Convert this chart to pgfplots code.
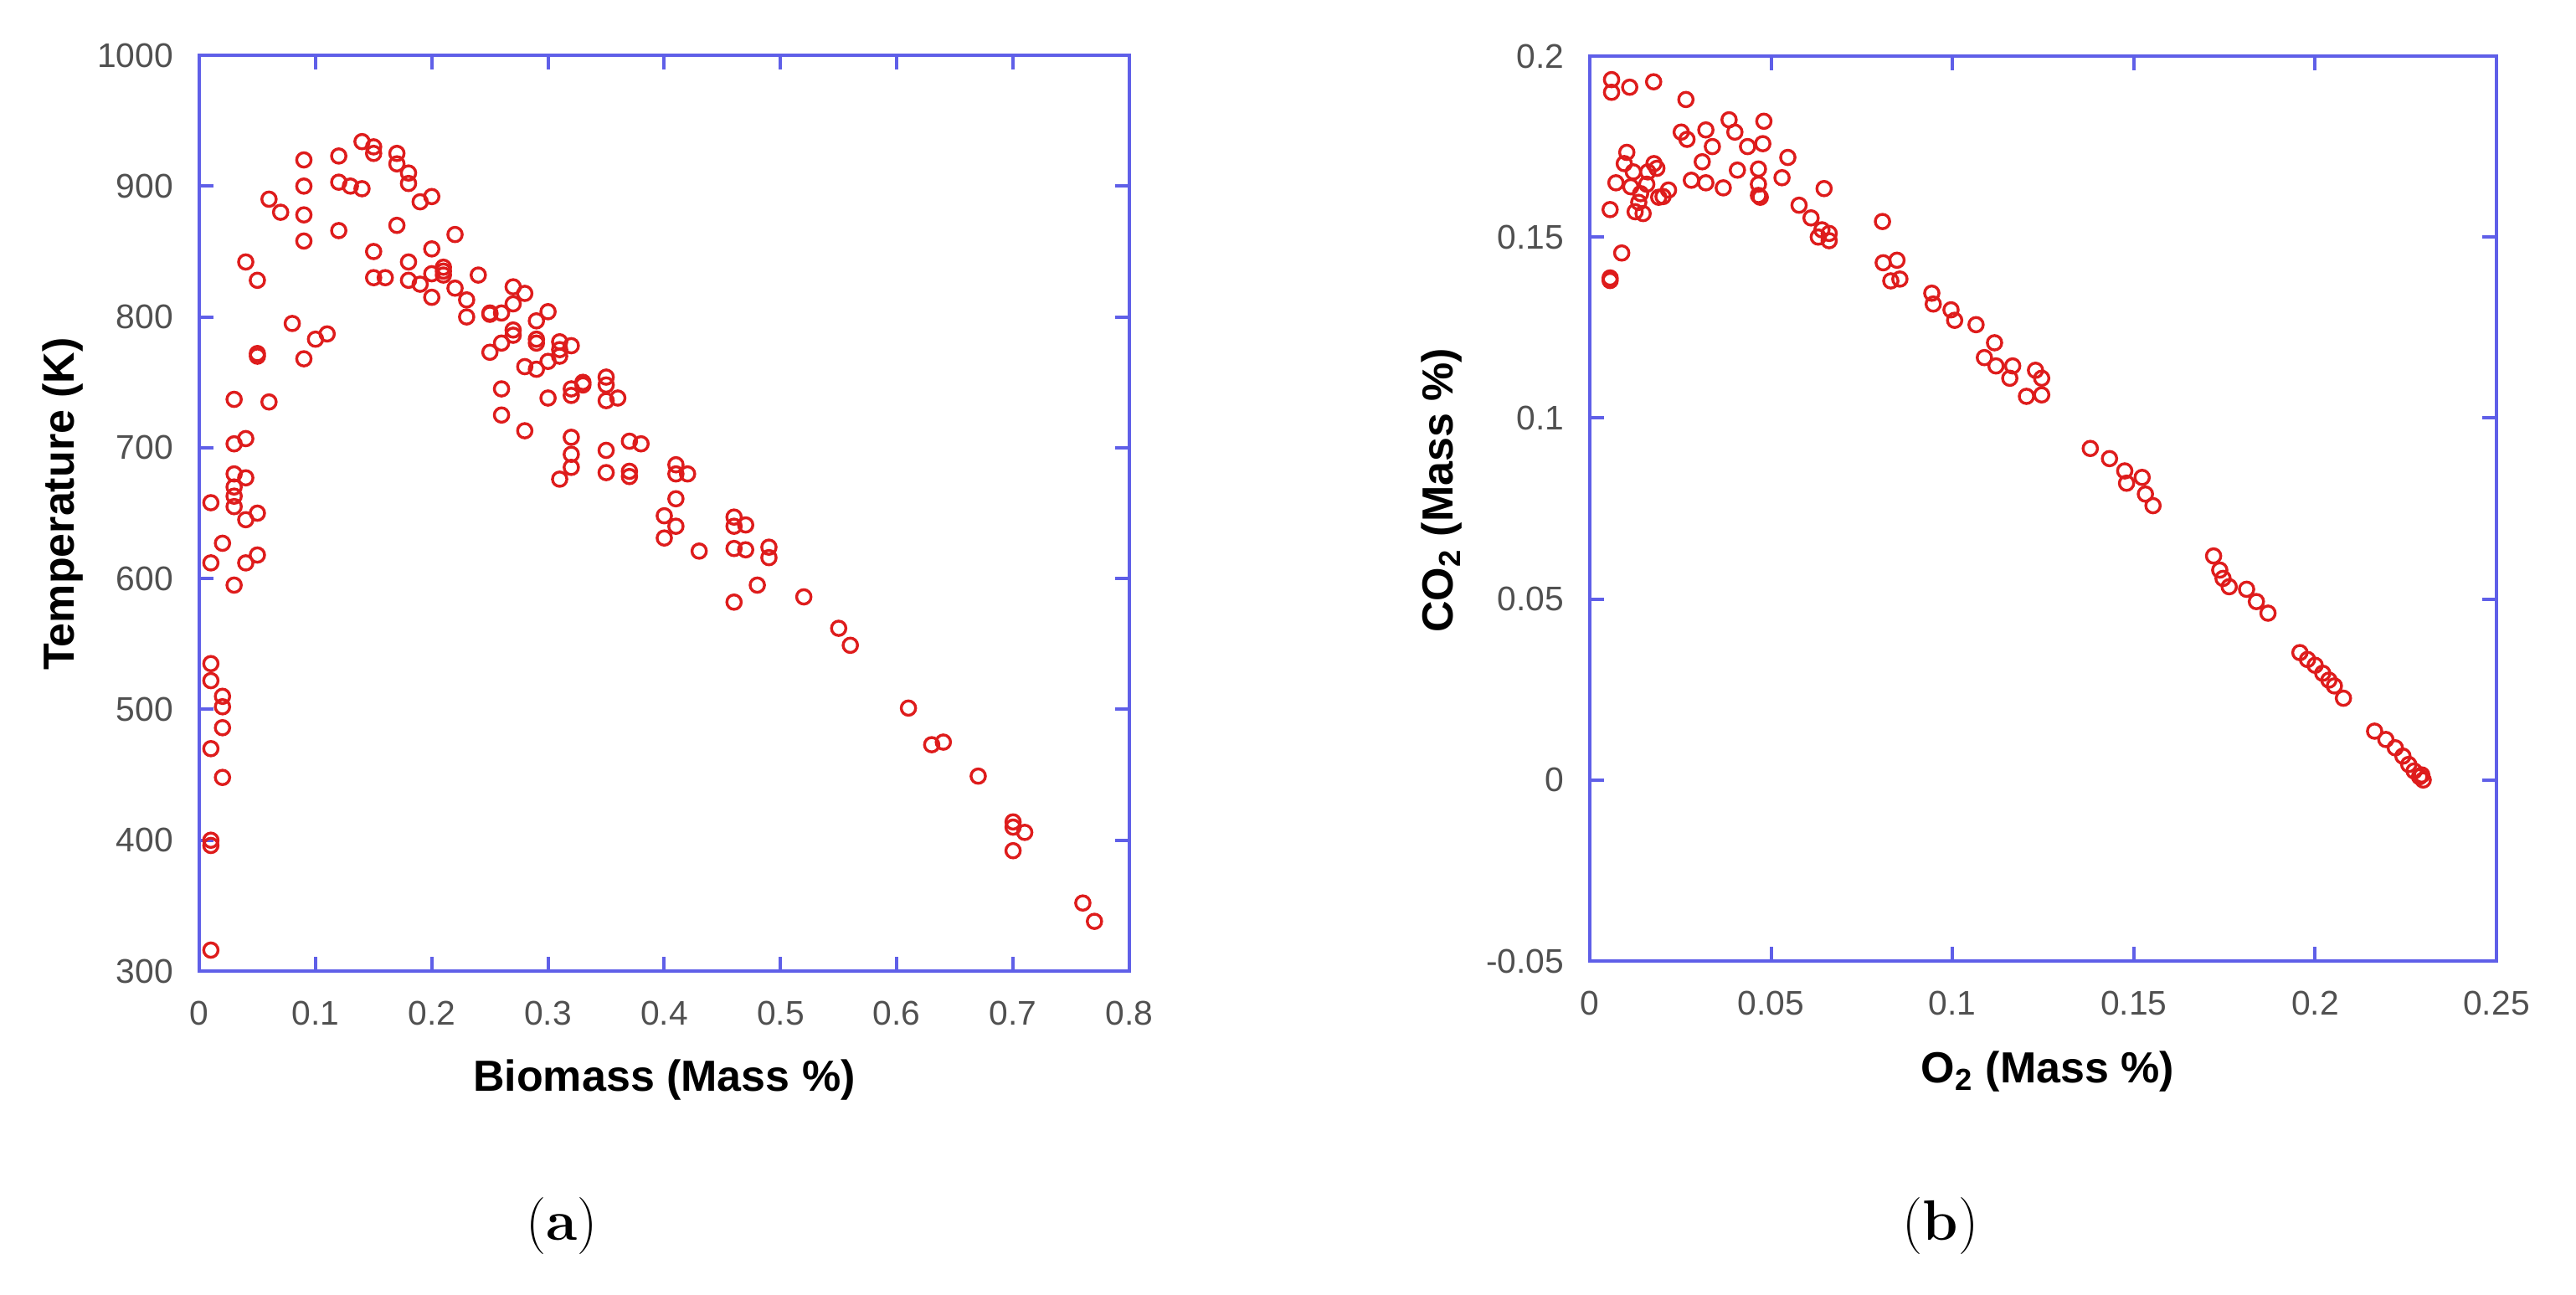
\documentclass[border=0pt]{standalone}
\usepackage{fontspec}
\usepackage{pgfplots}
\pgfplotsset{compat=1.18}
\newfontfamily\arial{Liberation Sans}
\definecolor{axblue}{RGB}{95,95,232}
\definecolor{mkred}{RGB}{222,28,28}
\definecolor{tkgray}{RGB}{80,80,80}
\pgfplotsset{
  myax/.style={
    scale only axis,
    anchor=south west,
    scaled ticks=false,
    axis line style={axblue, line width=1pt},
    every tick/.style={axblue, line width=1pt},
    major tick length=4.3pt,
    tick align=inside,
    /pgf/number format/assume math mode=true,
    /pgf/number format/1000 sep={},
    ticklabel style={font=\arial\fontsize{10.2}{12}\selectfont, text=tkgray},
    xticklabel style={yshift=-5.5pt},
    yticklabel style={xshift=-4.2pt},
    label style={font=\arial\bfseries\fontsize{13}{15}\selectfont, text=black},
    xlabel style={anchor=center},
    ylabel style={anchor=center, rotate=0},
  },
  mymark/.style={only marks, mark=o, mark size=2.15pt, mkred, mark options={line width=0.85pt, mkred}},
}
\begin{document}
\begin{tikzpicture}
\useasboundingbox (0,0) rectangle (769.25pt,386.5pt);
% ---------------- (a) ----------------
\begin{axis}[myax,
  at={(59.5pt,96.5pt)},
  width=277.75pt, height=273.5pt,
  xmin=0, xmax=0.8, ymin=300, ymax=1000,
  xtick={0,0.1,0.2,0.3,0.4,0.5,0.6,0.7,0.8},
  ytick={300,400,500,600,700,800,900,1000},
  xlabel={Biomass (Mass \%)},
  ylabel={Temperature (K)},
  xlabel style={at={(axis description cs:0.5,-0.119)}},
  ylabel style={at={(axis description cs:-0.147,0.51)}},
]
\addplot[mymark] table[row sep=\\] {
x y\\
0.01 658\\ 0.01 612\\ 0.01 535\\ 0.01 522\\ 0.01 470\\ 0.01 400\\ 0.01 396\\ 0.01 316\\
0.02 627\\ 0.02 510\\ 0.02 502\\ 0.02 486\\ 0.02 448\\
0.03 737\\ 0.03 703\\ 0.03 680\\ 0.03 670\\ 0.03 663\\ 0.03 655\\ 0.03 595\\
0.04 842\\ 0.04 707\\ 0.04 677\\ 0.04 645\\ 0.04 612\\
0.05 828\\ 0.05 772\\ 0.05 770\\ 0.05 650\\ 0.05 618\\
0.06 890\\ 0.06 735\\
0.07 880\\
0.08 795\\
0.09 920\\ 0.09 900\\ 0.09 878\\ 0.09 858\\ 0.09 768\\
0.10 783\\
0.11 787\\
0.12 923\\ 0.12 903\\ 0.12 866\\
0.13 900\\
0.14 934\\ 0.14 898\\
0.15 930\\ 0.15 925\\ 0.15 850\\ 0.15 830\\
0.16 830\\
0.17 925\\ 0.17 917\\ 0.17 870\\
0.18 910\\ 0.18 902\\ 0.18 842\\ 0.18 828\\
0.19 888\\ 0.19 825\\
0.20 892\\ 0.20 852\\ 0.20 833\\ 0.20 815\\
0.21 838\\ 0.21 835\\ 0.21 832\\
0.22 863\\ 0.22 822\\
0.23 813\\ 0.23 800\\
0.24 832\\
0.25 803\\ 0.25 802\\ 0.25 773\\
0.26 803\\ 0.26 780\\ 0.26 745\\ 0.26 725\\
0.27 823\\ 0.27 810\\ 0.27 790\\ 0.27 786\\
0.28 818\\ 0.28 762\\ 0.28 713\\
0.29 797\\ 0.29 783\\ 0.29 780\\ 0.29 760\\
0.30 804\\ 0.30 766\\ 0.30 738\\
0.31 781\\ 0.31 775\\ 0.31 770\\ 0.31 676\\
0.32 778\\ 0.32 745\\ 0.32 740\\ 0.32 708\\ 0.32 695\\ 0.32 685\\
0.33 750\\ 0.33 748\\
0.35 754\\ 0.35 748\\ 0.35 736\\ 0.35 698\\ 0.35 681\\
0.36 738\\
0.37 705\\ 0.37 682\\ 0.37 678\\
0.38 703\\
0.40 648\\ 0.40 631\\
0.41 687\\ 0.41 680\\ 0.41 661\\ 0.41 640\\
0.42 680\\
0.43 621\\
0.46 647\\ 0.46 640\\ 0.46 623\\ 0.46 582\\
0.47 641\\ 0.47 622\\
0.48 595\\
0.49 624\\ 0.49 616\\
0.52 586\\
0.55 562\\
0.56 549\\
0.61 501\\
0.63 473\\
0.64 475\\
0.67 449\\
0.70 414\\ 0.70 410\\ 0.70 392\\
0.71 406\\
0.76 352\\
0.77 338\\
};
\end{axis}
% ---------------- (b) ----------------
\begin{axis}[myax,
  at={(474.75pt,99.5pt)},
  width=270.75pt, height=270.25pt,
  xmin=0, xmax=0.25, ymin=-0.05, ymax=0.2,
  xtick={0,0.05,0.1,0.15,0.2,0.25},
  xticklabels={0,0.05,0.1,0.15,0.2,0.25},
  ytick={-0.05,0,0.05,0.1,0.15,0.2},
  yticklabels={-0.05,0,0.05,0.1,0.15,0.2},
  xlabel={O\textsubscript{2} (Mass \%)},
  ylabel={CO\textsubscript{2} (Mass \%)},
  xlabel style={at={(axis description cs:0.505,-0.122)}},
  ylabel style={at={(axis description cs:-0.163,0.52)}},
]
\addplot[mymark] table[row sep=\\] {
x y\\
0.006 0.1935\\ 0.006 0.1900\\ 0.011 0.1914\\ 0.0176 0.1929\\ 0.0265 0.1880\\
0.0252 0.1790\\ 0.0268 0.1770\\ 0.032 0.1796\\ 0.0384 0.1824\\ 0.040 0.1790\\
0.048 0.1820\\ 0.0435 0.1750\\ 0.0477 0.1758\\ 0.0338 0.1750\\ 0.031 0.1708\\
0.028 0.1657\\ 0.032 0.1650\\ 0.0368 0.1636\\ 0.0407 0.1685\\ 0.0465 0.1688\\
0.053 0.1664\\ 0.0546 0.1720\\ 0.0465 0.1646\\ 0.0465 0.1615\\ 0.047 0.1610\\
0.0577 0.1588\\ 0.061 0.1553\\ 0.0646 0.1634\\ 0.063 0.1500\\ 0.064 0.1520\\
0.066 0.1510\\ 0.066 0.1490\\ 0.0102 0.1734\\ 0.0095 0.1703\\ 0.0177 0.1703\\
0.0185 0.1690\\ 0.0072 0.1650\\ 0.0113 0.1639\\ 0.0157 0.1646\\ 0.016 0.1680\\
0.0217 0.1630\\ 0.0202 0.1612\\ 0.0056 0.1576\\ 0.0125 0.1570\\ 0.0135 0.1596\\
0.0147 0.1565\\ 0.0088 0.1456\\ 0.0056 0.1387\\ 0.0056 0.1380\\ 0.014 0.1620\\
0.012 0.1680\\ 0.019 0.1610\\
0.0807 0.1543\\ 0.0809 0.1429\\ 0.083 0.1379\\ 0.0847 0.1436\\ 0.0855 0.1384\\
0.0943 0.1345\\ 0.0947 0.1315\\ 0.0996 0.1299\\ 0.1006 0.1270\\ 0.1065 0.1258\\
0.1088 0.1167\\ 0.1116 0.1208\\ 0.112 0.1144\\ 0.1166 0.1144\\ 0.1158 0.1110\\
0.1204 0.1060\\ 0.1229 0.1132\\ 0.1246 0.1110\\ 0.1246 0.1064\\
0.138 0.0916\\ 0.1433 0.0888\\ 0.1475 0.0854\\ 0.148 0.0820\\ 0.1523 0.0836\\
0.1532 0.0790\\ 0.1553 0.0758\\
0.172 0.0619\\ 0.1737 0.0580\\ 0.1746 0.0557\\ 0.1763 0.0534\\ 0.1811 0.0527\\
0.1838 0.0493\\ 0.187 0.0461\\
0.1958 0.0352\\ 0.1979 0.0333\\ 0.2000 0.0317\\ 0.2021 0.0295\\ 0.2038 0.0276\\
0.2053 0.0260\\ 0.2078 0.0226\\
0.2164 0.0135\\ 0.2195 0.0112\\ 0.2221 0.0089\\ 0.2242 0.0066\\ 0.2258 0.0043\\
0.2273 0.0025\\ 0.2288 0.0009\\ 0.2298 0.0000\\ 0.2294 0.0014\\
};
\end{axis}
% sub-captions
\node[font=\fontsize{17}{20}\selectfont] at (167.75pt,20.25pt) {(\textbf{a})};
\node[font=\fontsize{17}{20}\selectfont] at (579.5pt,20.25pt) {(\textbf{b})};
\end{tikzpicture}
\end{document}
